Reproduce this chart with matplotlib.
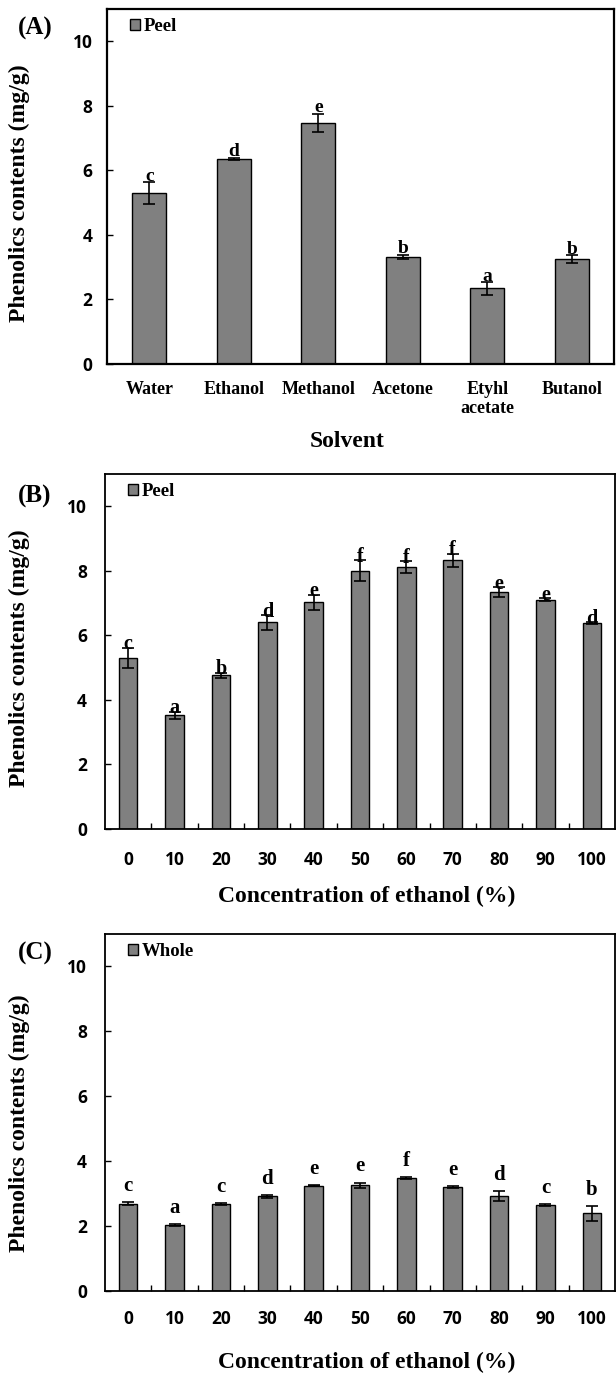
import numpy as np
import matplotlib
matplotlib.use("Agg")
import matplotlib.pyplot as plt
from matplotlib.patches import Patch

# (A) solvent extraction, peel
solvents = ["Water", "Ethanol", "Methanol", "Acetone", "Etyhl\nacetate", "Butanol"]
solvent_vals = [5.30, 6.36, 7.47, 3.32, 2.34, 3.26]
solvent_err = [0.33, 0.03, 0.28, 0.07, 0.19, 0.12]
solvent_letters = ["c", "d", "e", "b", "a", "b"]

# (B)/(C) ethanol concentration
ethanol_conc = ["0", "10", "20", "30", "40", "50", "60", "70", "80", "90", "100"]
peel_vals = [5.30, 3.52, 4.76, 6.40, 7.03, 8.00, 8.12, 8.33, 7.34, 7.11, 6.38]
peel_err = [0.31, 0.12, 0.08, 0.22, 0.23, 0.32, 0.18, 0.20, 0.15, 0.04, 0.03]
peel_letters = ["c", "a", "b", "d", "e", "f", "f", "f", "e", "e", "d"]

whole_vals = [2.69, 2.04, 2.68, 2.92, 3.25, 3.26, 3.49, 3.21, 2.92, 2.65, 2.39]
whole_err = [0.04, 0.03, 0.04, 0.04, 0.02, 0.08, 0.03, 0.03, 0.15, 0.04, 0.24]
whole_letters = ["c", "a", "c", "d", "e", "e", "f", "e", "d", "c", "b"]

y_ticks = [0, 2, 4, 6, 8, 10]

SERIF = "Liberation Serif"
SANS = "Open Sans"
BAR = "#808080"

W, H = 616, 1376
fig = plt.figure(figsize=(W / 100, H / 100), dpi=100)


def px_axes(left, right, top, bottom):
    return fig.add_axes([left / W, 1 - bottom / H, (right - left) / W, (bottom - top) / H])


def draw_panel(ax, cats, vals, errs, letters, legend_text, xlabel, letter_off, letter_size,
               spine_w, serif_xticks, tick_pad_x, tick_pad_y):
    x = np.arange(len(cats))
    ax.bar(x, vals, width=0.4, color=BAR, edgecolor="black", linewidth=1.0, zorder=2)
    ax.errorbar(x, vals, yerr=errs, fmt="none", ecolor="black", elinewidth=1.2,
                capsize=4, capthick=1.2, zorder=3)
    for xi, v, e, t in zip(x, vals, errs, letters):
        ax.annotate(t, (xi, v + e), xytext=(0, letter_off), textcoords="offset points",
                    ha="center", va="baseline", fontsize=letter_size,
                    family=SERIF, weight="bold")

    ax.set_xlim(-0.5, len(cats) - 0.5)
    ax.set_ylim(0, 11)
    ax.set_yticks(y_ticks)
    ax.set_yticklabels([str(t) for t in y_ticks], family=SANS, weight="bold", fontsize=12.5)
    ax.set_xticks(x)
    if serif_xticks:
        ax.set_xticklabels(cats, family=SERIF, weight="bold", fontsize=13)
    else:
        ax.set_xticklabels(cats, family=SANS, weight="bold", fontsize=12.5)
        ax.set_xticks(x[:-1] + 0.5, minor=True)
        ax.tick_params(axis="x", which="minor", direction="in", length=4, width=1.0)
    ax.tick_params(axis="y", direction="in", length=4, width=1.0, pad=tick_pad_y)
    ax.tick_params(axis="x", which="major", length=0, pad=tick_pad_x)

    for s in ax.spines.values():
        s.set_linewidth(spine_w)

    ax.set_ylabel("Phenolics contents (mg/g)", family=SERIF, weight="bold", fontsize=17)
    ax.set_xlabel(xlabel, family=SERIF, weight="bold", fontsize=17)

    handle = Patch(facecolor=BAR, edgecolor="black", linewidth=1.0)
    ax.legend([handle], [legend_text], loc="upper left", bbox_to_anchor=(0.045, 0.975),
              frameon=False, borderpad=0, borderaxespad=0, handlelength=0.55,
              handleheight=0.55, handletextpad=0.2,
              prop={"family": SERIF, "weight": "bold", "size": 13.5})


# (A)
axA = px_axes(107, 614, 9, 364)
draw_panel(axA, solvents, solvent_vals, solvent_err, solvent_letters, "Peel", "Solvent",
           1, 14, 1.6, True, 12, 10.5)
axA.xaxis.set_label_coords(0.473, -0.19)
axA.yaxis.set_label_coords(-0.152, 0.48)

# (B)
axB = px_axes(105, 615, 474, 829)
draw_panel(axB, ethanol_conc, peel_vals, peel_err, peel_letters, "Peel",
           "Concentration of ethanol (%)", -1, 14.5, 1.3, False, 15.5, 13)
axB.xaxis.set_label_coords(0.513, -0.16)
axB.yaxis.set_label_coords(-0.147, 0.48)

# (C)
axC = px_axes(105, 615, 934, 1291)
draw_panel(axC, ethanol_conc, whole_vals, whole_err, whole_letters, "Whole",
           "Concentration of ethanol (%)", 8, 15, 1.3, False, 14, 13)
axC.xaxis.set_label_coords(0.513, -0.17)
axC.yaxis.set_label_coords(-0.147, 0.47)

for lab, yc in [("(A)", 28), ("(B)", 496), ("(C)", 953)]:
    fig.text(35 / W, 1 - yc / H, lab, ha="center", va="center", family=SERIF,
             weight="bold", fontsize=18)

fig.savefig("out.png", dpi=100)
